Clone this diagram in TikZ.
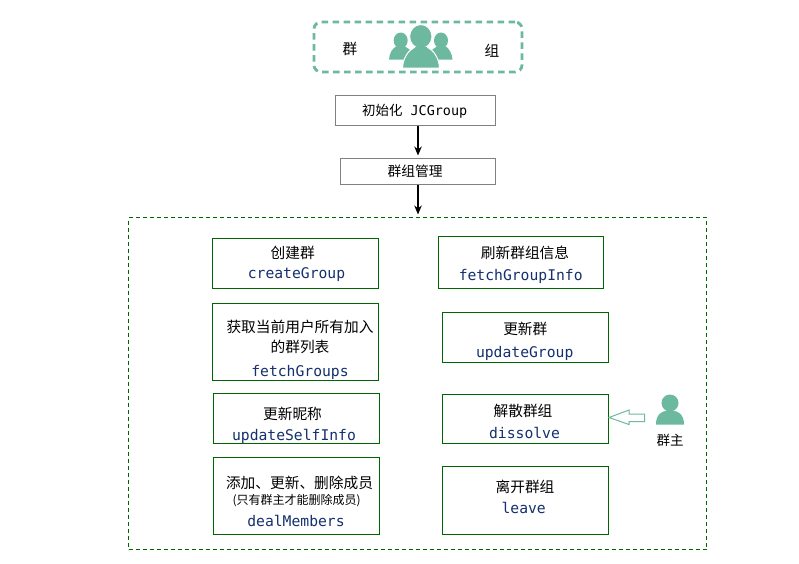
\documentclass[tikz,border=0pt]{standalone}
\usepackage{fontspec}
\setmonofont{DejaVu Sans Mono}
\newfontfamily\cjk{Noto Sans CJK SC}
\usetikzlibrary{arrows.meta}
\definecolor{iconteal}{HTML}{6DB9A0}
\definecolor{boxgreen}{HTML}{006400}
\definecolor{codeblue}{HTML}{14306E}
\tikzset{
  x=1pt,y=-1pt,
  every node/.style={outer sep=0pt},
  greenbox/.style={draw=boxgreen,line width=1.1pt,inner sep=0pt,anchor=north west},
  graybox/.style={draw=black!50,line width=1.1pt,inner sep=0pt,anchor=north west},
  zh/.style={font=\cjk\fontsize{14.7}{14.7}\selectfont,inner sep=0pt,text=black},
  zhsmall/.style={font=\cjk\fontsize{12}{12}\selectfont,inner sep=0pt,text=black},
  code/.style={font=\ttfamily\fontsize{14.7}{14.7}\selectfont,inner sep=0pt,text=codeblue,text height=12pt,text depth=2pt},
  flow/.style={-{Stealth[length=9pt,width=7.5pt]},line width=1.2pt,black,xshift=-0.5pt},
}
\begin{document}
\begin{tikzpicture}
\useasboundingbox (0,0) rectangle (799,563);
\fill[white] (0,0) rectangle (799,563);
% header
\node[draw=iconteal,line width=2.8pt,dash pattern=on 6.5pt off 4.5pt,rounded corners=7pt,inner sep=0pt,anchor=north west,minimum width=208pt,minimum height=50pt] (hdr) at (314,22) {};
\node[zh] (hq) at (350,49) {群};
\node[zh] (hz) at (492,51) {组};
% group icon
\fill[iconteal] (400.7,40.5) ellipse (7 and 8);
\fill[iconteal] (389,59.7) .. controls (389.5,53) and (392,49) .. (396,46.5) -- (405,46.5) .. controls (408,48) and (411,50) .. (411,53) -- (409,59.7) -- cycle;
\fill[iconteal] (441,40.5) ellipse (7 and 8);
\fill[iconteal] (452.5,59.7) .. controls (452,53) and (449,49) .. (446,46.5) -- (437,46.5) .. controls (434,48) and (431,50) .. (431,53) -- (433,59.7) -- cycle;
\draw[white,line width=1pt,fill=iconteal] (402.5,68) .. controls (403,58) and (408,51) .. (414,47.5) -- (428,47.5) .. controls (434,51) and (439,58) .. (439.5,68) -- cycle;
\draw[white,line width=1pt,fill=iconteal] (420.8,36.5) ellipse (11.2 and 12);
\fill[iconteal] (414.5,47) rectangle (427,50);
% flow boxes
\node[graybox,minimum width=160pt,minimum height=30pt] (init) at (335.5,95.5) {};
\node[zh,font=\ttfamily\fontsize{13.45}{13.45}\selectfont] (initlbl) at (414.7,111) {{\cjk\fontsize{13.45}{13.45}\selectfont 初始化} JCGroup};
\node[graybox,minimum width=155pt,minimum height=26pt] (mgr) at (340.5,158.5) {};
\node[zh,font=\cjk\fontsize{13.75}{13.75}\selectfont] (mgrlbl) at (415.2,171.7) {群组管理};
\node[draw=boxgreen,line width=1pt,dash pattern=on 4pt off 3pt,inner sep=0pt,anchor=north west,minimum width=578pt,minimum height=332pt] (frame) at (128.5,217.5) {};
\draw[flow,shorten >=3pt] (init.south -| mgr.north) -- (mgr.north);
\draw[flow,shorten >=3pt] (mgr.south) -- (mgr.south |- frame.north);
% left column
\node[greenbox,minimum width=166pt,minimum height=50pt] (b1) at (212.5,238.5) {};
\node[zh] (b1a) at (292.7,252.7) {创建群};
\node[code] (b1b) at (296.5,273) {createGroup};
\node[greenbox,minimum width=166pt,minimum height=77pt] (b2) at (212.5,303.5) {};
\node[zh] (b2a) at (300,327) {获取当前用户所有加入};
\node[zh] (b2b) at (300,347) {的群列表};
\node[code] (b2c) at (300,371) {fetchGroups};
\node[greenbox,minimum width=166pt,minimum height=50pt] (b3) at (213.5,393.5) {};
\node[zh] (b3a) at (292.5,414) {更新昵称};
\node[code] (b3b) at (294,435) {updateSelfInfo};
\node[greenbox,minimum width=166pt,minimum height=77pt] (b4) at (213.5,457.5) {};
\node[zh] (b4a) at (299.5,482.7) {添加、更新、删除成员};
\node[zhsmall] (b4b) at (296.7,500.5) {(只有群主才能删除成员)};
\node[code] (b4c) at (296,521.7) {dealMembers};
% right column
\node[greenbox,minimum width=165pt,minimum height=52pt] (c1) at (438.5,236.5) {};
\node[zh] (c1a) at (525,252.7) {刷新群组信息};
\node[code] (c1b) at (520.7,275) {fetchGroupInfo};
\node[greenbox,minimum width=166pt,minimum height=50pt] (c2) at (442.5,312.5) {};
\node[zh] (c2a) at (525.3,328.7) {更新群};
\node[code] (c2b) at (524.7,352) {updateGroup};
\node[greenbox,minimum width=166pt,minimum height=49pt] (c3) at (442.5,394.5) {};
\node[zh] (c3a) at (523,410.7) {解散群组};
\node[code] (c3b) at (524.5,433) {dissolve};
\node[greenbox,minimum width=166pt,minimum height=68pt] (c4) at (442.5,466.5) {};
\node[zh] (c4a) at (525,486.7) {离开群组};
\node[code] (c4b) at (523.7,508) {leave};
% owner
\fill[iconteal] (670,403) circle (8.5);
\fill[iconteal] (656,424.5) .. controls (656,415) and (661,410.5) .. (670,410.5) .. controls (679,410.5) and (684,415) .. (684,424.5) -- cycle;
\node[zh,font=\cjk\fontsize{13.5}{13.5}\selectfont] (owner) at (670,440) {群主};
\draw[iconteal,line width=1pt,fill=white] (609,417.5) -- (629,410) -- (629,414) -- (644.7,414) -- (644.7,421.5) -- (629,421.5) -- (629,424.5) -- cycle;
\end{tikzpicture}
\end{document}
